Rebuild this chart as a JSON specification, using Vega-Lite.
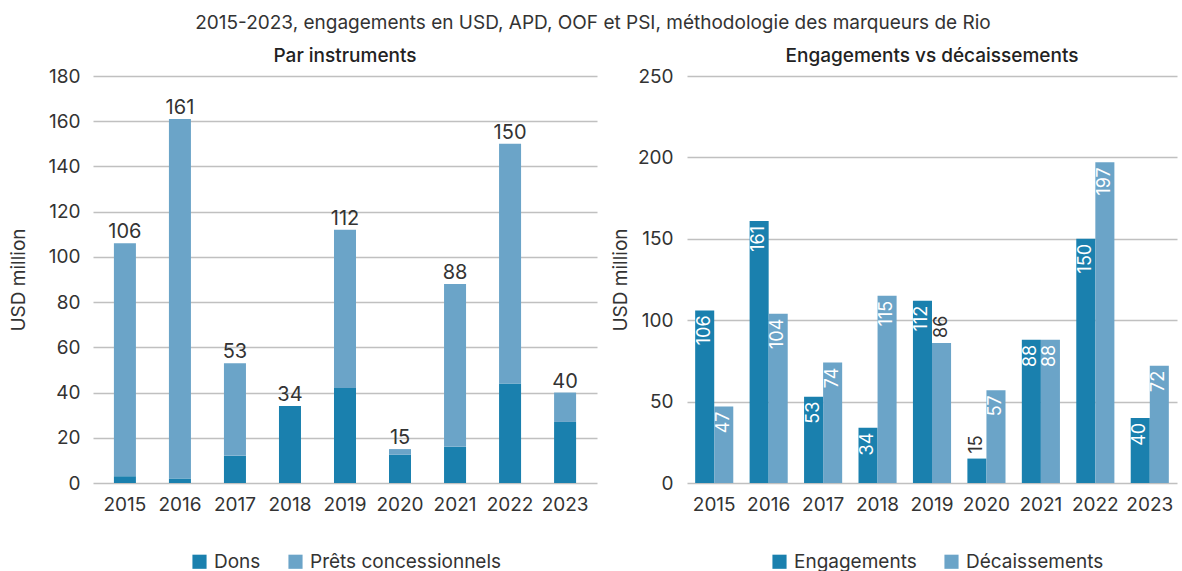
{
  "$schema": "https://vega.github.io/schema/vega-lite/v6.json",
  "background": "#ffffff",
  "padding": {"left": 9, "right": 3, "top": 14, "bottom": 0},
  "bounds": "flush",
  "spacing": 90,
  "config": {
    "font": "Inter",
    "view": {"stroke": null},
    "axis": {"labelFont": "Inter", "titleFont": "Inter", "labelColor": "#333333", "titleColor": "#333333", "labelFontSize": 19, "titleFontSize": 19, "titleFontWeight": "normal", "domain": false, "ticks": false, "gridColor": "#c0c0c0", "gridWidth": 1.3},
    "legend": {"labelFont": "Inter", "labelFontSize": 19, "labelColor": "#333333", "labelLimit": 0, "symbolType": "square", "symbolSize": 200, "symbolStrokeWidth": 0, "orient": "none", "direction": "horizontal", "columnPadding": 25, "labelOffset": 5},
    "title": {"font": "Inter", "color": "#222222"}
  },
  "title": {"text": "2015-2023, engagements en USD, APD, OOF et PSI, méthodologie des marqueurs de Rio", "fontSize": 19, "fontWeight": "normal", "color": "#333333", "anchor": "middle", "offset": 14},
  "datasets": {
    "instr": [
      {"year": "2015", "instrument": "Dons", "value": 3},
      {"year": "2015", "instrument": "Prêts concessionnels", "value": 103},
      {"year": "2016", "instrument": "Dons", "value": 2},
      {"year": "2016", "instrument": "Prêts concessionnels", "value": 159},
      {"year": "2017", "instrument": "Dons", "value": 12},
      {"year": "2017", "instrument": "Prêts concessionnels", "value": 41},
      {"year": "2018", "instrument": "Dons", "value": 34},
      {"year": "2018", "instrument": "Prêts concessionnels", "value": 0},
      {"year": "2019", "instrument": "Dons", "value": 42},
      {"year": "2019", "instrument": "Prêts concessionnels", "value": 70},
      {"year": "2020", "instrument": "Dons", "value": 12.5},
      {"year": "2020", "instrument": "Prêts concessionnels", "value": 2.5},
      {"year": "2021", "instrument": "Dons", "value": 16},
      {"year": "2021", "instrument": "Prêts concessionnels", "value": 72},
      {"year": "2022", "instrument": "Dons", "value": 44},
      {"year": "2022", "instrument": "Prêts concessionnels", "value": 106},
      {"year": "2023", "instrument": "Dons", "value": 27},
      {"year": "2023", "instrument": "Prêts concessionnels", "value": 13}
    ],
    "engdec": [
      {"year": "2015", "type": "Engagements", "value": 106},
      {"year": "2015", "type": "Décaissements", "value": 47},
      {"year": "2016", "type": "Engagements", "value": 161},
      {"year": "2016", "type": "Décaissements", "value": 104},
      {"year": "2017", "type": "Engagements", "value": 53},
      {"year": "2017", "type": "Décaissements", "value": 74},
      {"year": "2018", "type": "Engagements", "value": 34},
      {"year": "2018", "type": "Décaissements", "value": 115},
      {"year": "2019", "type": "Engagements", "value": 112},
      {"year": "2019", "type": "Décaissements", "value": 86},
      {"year": "2020", "type": "Engagements", "value": 15},
      {"year": "2020", "type": "Décaissements", "value": 57},
      {"year": "2021", "type": "Engagements", "value": 88},
      {"year": "2021", "type": "Décaissements", "value": 88},
      {"year": "2022", "type": "Engagements", "value": 150},
      {"year": "2022", "type": "Décaissements", "value": 197},
      {"year": "2023", "type": "Engagements", "value": 40},
      {"year": "2023", "type": "Décaissements", "value": 72}
    ]
  },
  "hconcat": [
    {
      "width": 504,
      "height": 407,
      "title": {"text": "Par instruments", "fontSize": 19, "fontWeight": 500, "anchor": "middle", "offset": 1},
      "data": {"name": "instr"},
      "layer": [
        {
          "mark": {"type": "bar"},
          "encoding": {
            "x": {"field": "year", "type": "nominal", "title": null, "scale": {"paddingInner": 0.6, "paddingOuter": 0.38}, "axis": {"labelAngle": 0, "labelPadding": 12}},
            "y": {"field": "value", "type": "quantitative", "stack": "zero", "title": "USD million", "scale": {"domain": [0, 180], "nice": false}, "axis": {"values": [0, 20, 40, 60, 80, 100, 120, 140, 160, 180], "labelPadding": 13, "titlePadding": 20}},
            "color": {"field": "instrument", "type": "nominal", "title": null, "scale": {"domain": ["Dons", "Prêts concessionnels"], "range": ["#1a80ae", "#6ba4c8"]}, "legend": {"legendX": 97, "legendY": 476}},
            "order": {"field": "instrument", "sort": "ascending"}
          }
        },
        {
          "transform": [{"aggregate": [{"op": "sum", "field": "value", "as": "total"}], "groupby": ["year"]}],
          "mark": {"type": "text", "baseline": "bottom", "dy": -1, "fontSize": 20, "color": "#333333"},
          "encoding": {
            "x": {"field": "year", "type": "nominal"},
            "y": {"field": "total", "type": "quantitative"},
            "text": {"field": "total", "type": "quantitative", "format": ".0f"}
          }
        }
      ]
    },
    {
      "width": 490,
      "height": 407,
      "title": {"text": "Engagements vs décaissements", "fontSize": 19, "fontWeight": 500, "anchor": "middle", "offset": 1},
      "data": {"name": "engdec"},
      "layer": [
        {
          "mark": {"type": "bar"},
          "encoding": {
            "x": {"field": "year", "type": "nominal", "title": null, "scale": {"paddingInner": 0.3, "paddingOuter": 0.15}, "axis": {"labelAngle": 0, "labelPadding": 12}},
            "xOffset": {"field": "type", "type": "nominal", "sort": ["Engagements", "Décaissements"]},
            "y": {"field": "value", "type": "quantitative", "title": "USD million", "scale": {"domain": [0, 250], "nice": false}, "axis": {"values": [0, 50, 100, 150, 200, 250], "labelPadding": 14, "titlePadding": 7}},
            "color": {"field": "type", "type": "nominal", "title": null, "sort": ["Engagements", "Décaissements"], "scale": {"domain": ["Engagements", "Décaissements"], "range": ["#1a80ae", "#6ba4c8"]}, "legend": {"legendX": 83, "legendY": 476}}
          }
        },
        {
          "transform": [{"filter": "!((datum.year == '2019' && datum.type == 'Décaissements') || datum.value < 20)"}],
          "mark": {"type": "text", "angle": 270, "align": "right", "baseline": "middle", "dx": -5, "fontSize": 18, "color": "#ffffff"},
          "encoding": {
            "x": {"field": "year", "type": "nominal"},
            "xOffset": {"field": "type", "type": "nominal", "sort": ["Engagements", "Décaissements"]},
            "y": {"field": "value", "type": "quantitative"},
            "text": {"field": "value", "type": "quantitative"}
          }
        },
        {
          "transform": [{"filter": "(datum.year == '2019' && datum.type == 'Décaissements') || datum.value < 20"}],
          "mark": {"type": "text", "angle": 270, "align": "left", "baseline": "middle", "dx": 5, "fontSize": 18, "color": "#333333"},
          "encoding": {
            "x": {"field": "year", "type": "nominal"},
            "xOffset": {"field": "type", "type": "nominal", "sort": ["Engagements", "Décaissements"]},
            "y": {"field": "value", "type": "quantitative"},
            "text": {"field": "value", "type": "quantitative"}
          }
        }
      ]
    }
  ],
  "resolve": {"scale": {"color": "independent", "y": "independent", "x": "independent"}}
}
